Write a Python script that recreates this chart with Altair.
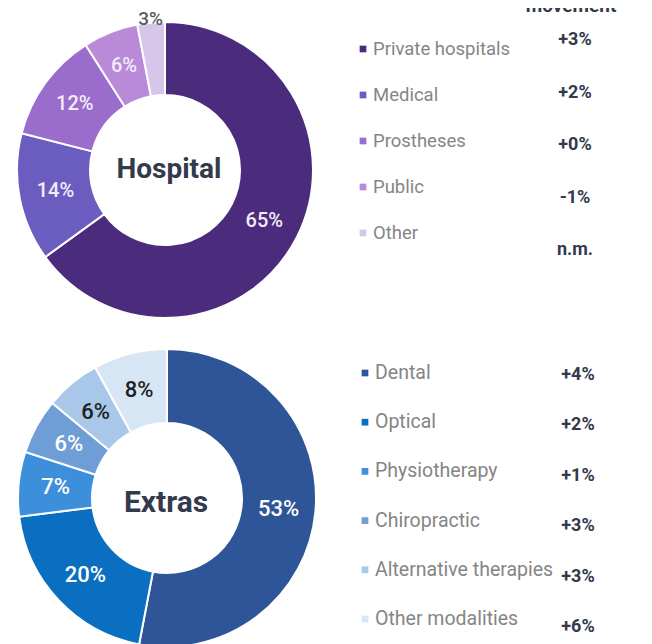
import altair as alt
import pandas as pd

# ---------------- data ----------------
hosp_cats = ["Private hospitals", "Medical", "Prostheses", "Public", "Other"]
hosp_share = [65, 14, 12, 6, 3]
hosp_move = ["+3%", "+2%", "+0%", "-1%", "n.m."]
hosp_colors = ["#4b2b7c", "#6b5cc0", "#9a6ccb", "#b98ad8", "#d6c6ea"]

ext_cats = ["Dental", "Optical", "Physiotherapy", "Chiropractic",
            "Alternative therapies", "Other modalities"]
ext_share = [53, 20, 7, 6, 6, 8]
ext_move = ["+4%", "+2%", "+1%", "+3%", "+3%", "+6%"]
ext_colors = ["#2e5597", "#0a6fc0", "#3d8fdb", "#6f9ed6", "#a9c7e8", "#d6e6f4"]

FONT = "Roboto"
DARK = "#333a4c"
GREY = "#858585"

all_cats = hosp_cats + ext_cats
all_colors = hosp_colors + ext_colors
color = alt.Color("cat:N", scale=alt.Scale(domain=all_cats, range=all_colors), legend=None)


def make_df(cats, share, move):
    return pd.DataFrame({
        "idx": list(range(len(cats))),
        "cat": cats,
        "share": share,
        "label": [f"{s}%" for s in share],
        "move": move,
    })


def donut_layers(df, cats, title, cx, cy, r_in, r_out, title_xy, title_size,
                 row_range, move_range, label_x, label_size, move_x, pct_size,
                 small_labels, dark_labels, light_label_color):
    theta = alt.Theta("share:Q", stack=True)
    order = alt.Order("idx:Q")
    base = alt.Chart(df)

    arcs = base.mark_arc(innerRadius=r_in, outerRadius=r_out, stroke="white",
                         strokeWidth=2).encode(
        theta=theta, order=order, color=color, x=alt.value(cx), y=alt.value(cy))

    inner = base.mark_text(radius=(r_in + r_out) / 2, font=FONT, fontSize=pct_size,
                           fontWeight=500).encode(
        theta=theta, order=order,
        text=alt.condition(alt.FieldOneOfPredicate(field="cat", oneOf=small_labels or ["__none__"]),
                           alt.value(""), "label:N"),
        x=alt.value(cx), y=alt.value(cy),
        color=alt.condition(alt.FieldOneOfPredicate(field="cat", oneOf=dark_labels or ["__none__"]),
                            alt.value("#1e1e1e"), alt.value(light_label_color)))

    layers = [arcs, inner]
    if small_labels:
        outer = base.mark_text(radius=r_out + 4, font=FONT, fontSize=19,
                               fontWeight=500, color="#5a5a5a").encode(
            theta=theta, order=order,
            text=alt.condition(alt.FieldOneOfPredicate(field="cat", oneOf=small_labels),
                               "label:N", alt.value("")),
            x=alt.value(cx), y=alt.value(cy))
        layers.append(outer)

    center = alt.Chart(pd.DataFrame({"t": [title]})).mark_text(
        font=FONT, fontSize=title_size, fontWeight="bold", color=DARK).encode(
        text="t:N", x=alt.value(title_xy[0]), y=alt.value(title_xy[1]))
    layers.append(center)

    n = len(cats) - 1
    ysc = alt.Y("idx:Q", scale=alt.Scale(domain=[0, n], range=row_range), axis=None)
    squares = base.mark_square(size=45, opacity=1).encode(
        x=alt.value(label_x - 10), y=ysc, color=color)
    labels = base.mark_text(align="left", font=FONT, fontSize=label_size, color=GREY,
                            baseline="middle").encode(
        x=alt.value(label_x), y=ysc, text="cat:N")
    ymv = alt.Y("idx:Q", scale=alt.Scale(domain=[0, n], range=move_range), axis=None)
    moves = base.mark_text(align="center", font=FONT, fontSize=18, fontWeight="bold",
                           color=DARK, baseline="middle").encode(
        x=alt.value(move_x), y=ymv, text="move:N")
    layers += [squares, labels, moves]
    return layers


hosp_df = make_df(hosp_cats, hosp_share, hosp_move)
ext_df = make_df(ext_cats, ext_share, ext_move)

top_layers = donut_layers(hosp_df, hosp_cats, "Hospital", 157, 162, 75, 148,
                          (161, 162), 28, [41, 225], [32, 242], 365, 18.5, 567, 20,
                          ["Other"], [], "#f3ecf8")
OFF = 320
bottom_layers = donut_layers(ext_df, ext_cats, "Extras", 159, 170 + OFF, 75, 149,
                             (158, 175 + OFF), 30, [45 + OFF, 291 + OFF], [47 + OFF, 299 + OFF],
                             367, 19.5, 570, 22,
                             [], ["Alternative therapies", "Other modalities"], "#ffffff")

header = alt.Chart(pd.DataFrame({"t": ["movement"]})).mark_text(
    font=FONT, fontSize=19, fontWeight="bold", color=DARK, baseline="alphabetic").encode(
    text="t:N", x=alt.value(563), y=alt.value(4))

chart = alt.layer(*top_layers, *bottom_layers, header).resolve_scale(
    y="independent", theta="independent"
).properties(
    width=636, height=636, padding=0, autosize=alt.AutoSizeParams(type="none")
).configure_view(stroke=None)

chart.save("out.html", embed_options={"renderer": "svg", "actions": False})
